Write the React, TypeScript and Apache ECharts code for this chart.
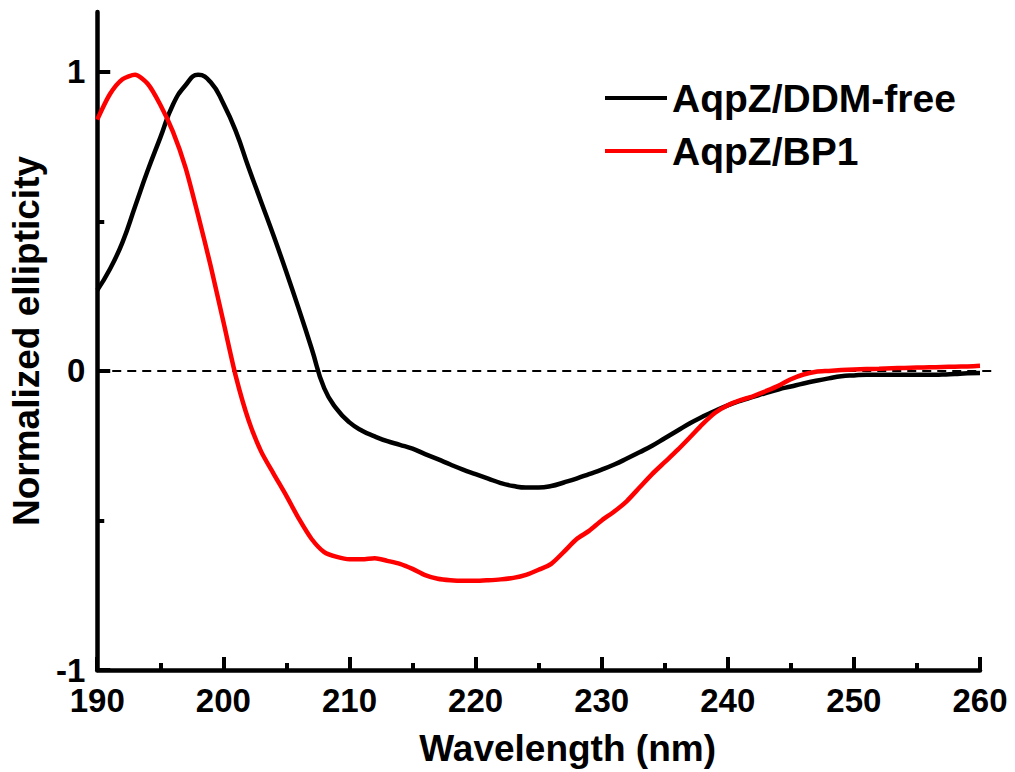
import React, { useEffect, useRef } from "react";
import * as echarts from "echarts";

const wavelength = [
  190, 191, 192, 193, 194, 195, 196, 197, 198, 199,
  200, 201, 202, 203, 204, 205, 206, 207, 208, 209,
  210, 211, 212, 213, 214, 215, 216, 217, 218, 219,
  220, 221, 222, 223, 224, 225, 226, 227, 228, 229,
  230, 231, 232, 233, 234, 235, 236, 237, 238, 239,
  240, 241, 242, 243, 244, 245, 246, 247, 248, 249,
  250, 251, 252, 253, 254, 255, 256, 257, 258, 259,
  260,
];

const ddmFree = [
  0.27, 0.34, 0.43, 0.55, 0.67, 0.78, 0.89, 0.955, 0.99, 0.965,
  0.894, 0.8, 0.68, 0.565, 0.45, 0.33, 0.205, 0.075, -0.058, -0.128,
  -0.172, -0.2, -0.219, -0.235, -0.247, -0.26, -0.278, -0.295, -0.313, -0.33,
  -0.345, -0.36, -0.375, -0.385, -0.39, -0.39, -0.385, -0.373, -0.36, -0.345,
  -0.33, -0.313, -0.293, -0.272, -0.25, -0.225, -0.2, -0.175, -0.153, -0.133,
  -0.115, -0.1, -0.087, -0.074, -0.062, -0.052, -0.042, -0.033, -0.025, -0.018,
  -0.015, -0.013, -0.013, -0.013, -0.013, -0.013, -0.013, -0.012, -0.01, -0.008,
  -0.007,
];

const bp1 = [
  0.84, 0.925, 0.975, 0.99, 0.96, 0.89, 0.8, 0.68, 0.52, 0.35,
  0.165, -0.02, -0.165, -0.27, -0.345, -0.418, -0.495, -0.562, -0.606, -0.622,
  -0.63, -0.63, -0.626, -0.635, -0.645, -0.662, -0.683, -0.695, -0.7, -0.702,
  -0.702, -0.7, -0.697, -0.692, -0.682, -0.665, -0.645, -0.605, -0.563, -0.535,
  -0.5, -0.47, -0.435, -0.39, -0.345, -0.305, -0.265, -0.222, -0.178, -0.14,
  -0.115, -0.098, -0.085, -0.068, -0.05, -0.028, -0.012, -0.003, 0.0, 0.003,
  0.005, 0.006, 0.007, 0.009, 0.01, 0.011, 0.012, 0.013, 0.014, 0.015,
  0.017,
];

const seriesNames = ["AqpZ/DDM-free", "AqpZ/BP1"];
const seriesColors = ["#000000", "#ff0000"];
const yMajorTicks = [-1, 0, 1];
const yMinorTicks = [-0.5, 0.5];
const xMin = 190;
const xMax = 260;
const yMin = -1;
const yMax = 1.2;

const FONT = "'Liberation Sans', Arial, sans-serif";

export default function App() {
  const ref = useRef<HTMLDivElement>(null);

  useEffect(() => {
    if (!ref.current) return;
    const chart = echarts.init(ref.current, undefined, { renderer: "svg" });

    const tickLine = { color: "#000", width: 4 };

    const option: any = {
      animation: false,
      backgroundColor: "#ffffff",
      grid: { left: 92, right: 35, top: 12, bottom: 99, containLabel: false },
      legend: {
        orient: "vertical",
        left: 600,
        top: 71,
        icon: "rect",
        itemWidth: 62,
        itemHeight: 4,
        itemGap: 9,
        data: seriesNames,
        textStyle: {
          fontSize: 39,
          fontWeight: "bold",
          fontFamily: FONT,
          color: "#000",
          lineHeight: 44,
        },
      },
      xAxis: {
        type: "value",
        min: xMin,
        max: xMax,
        interval: 10,
        axisLine: { show: true, onZero: false, lineStyle: { color: "#000", width: 4.5 } },
        axisTick: { show: true, inside: true, length: 13, lineStyle: tickLine },
        minorTick: { show: true, splitNumber: 2, length: 7, lineStyle: tickLine },
        splitLine: { show: false },
        minorSplitLine: { show: false },
        axisLabel: {
          fontSize: 33,
          fontWeight: "bold",
          fontFamily: FONT,
          color: "#000",
          margin: 14,
        },
        name: "Wavelength (nm)",
        nameLocation: "middle",
        nameGap: 60,
        nameTextStyle: {
          fontSize: 37,
          fontWeight: "bold",
          fontFamily: FONT,
          color: "#000",
          padding: [0, 0, 0, 58],
        },
      },
      yAxis: [
        {
          type: "value",
          min: yMin,
          max: yMax,
          position: "left",
          axisLine: { show: true, onZero: false, lineStyle: { color: "#000", width: 4.5 } },
          axisTick: { show: true, inside: true, length: 13, lineStyle: tickLine, customValues: yMajorTicks },
          splitLine: { show: false },
          axisLabel: {
            customValues: yMajorTicks,
            fontSize: 33,
            fontWeight: "bold",
            fontFamily: FONT,
            color: "#000",
            margin: 12,
          },
          name: "Normalized ellipticity",
          nameLocation: "middle",
          nameGap: 45,
          nameTextStyle: {
            fontSize: 37,
            fontWeight: "bold",
            fontFamily: FONT,
            color: "#000",
          },
        },
        {
          type: "value",
          min: yMin,
          max: yMax,
          position: "left",
          offset: 0,
          axisLine: { show: false, onZero: false },
          axisTick: { show: true, inside: true, length: 7, lineStyle: tickLine, customValues: yMinorTicks },
          axisLabel: { show: false, customValues: yMinorTicks },
          splitLine: { show: false },
        },
      ],
      series: [
        {
          name: seriesNames[0],
          type: "line",
          data: wavelength.map((w, i) => [w, ddmFree[i]]),
          symbol: "none",
          showSymbol: false,
          smooth: 0.5,
          clip: false,
          lineStyle: { color: seriesColors[0], width: 4.5 },
          itemStyle: { color: seriesColors[0] },
          z: 3,
        },
        {
          name: seriesNames[1],
          type: "line",
          data: wavelength.map((w, i) => [w, bp1[i]]),
          symbol: "none",
          showSymbol: false,
          smooth: 0.25,
          clip: false,
          lineStyle: { color: seriesColors[1], width: 4.5 },
          itemStyle: { color: seriesColors[1] },
          z: 4,
        },
      ],
    };

    chart.setOption(option);

    const p0 = chart.convertToPixel({ xAxisIndex: 0, yAxisIndex: 0 }, [xMin, 0]) as number[];
    const p1 = chart.convertToPixel({ xAxisIndex: 0, yAxisIndex: 0 }, [xMax, 0]) as number[];
    chart.setOption({
      graphic: [
        {
          type: "line",
          z: 1,
          shape: { x1: p0[0], y1: p0[1], x2: p1[0] + 12, y2: p1[1] },
          style: { stroke: "#000", lineWidth: 2, lineDash: [9, 6] },
        },
      ],
    });

    return () => {
      chart.dispose();
    };
  }, []);

  return (
    <div
      ref={ref}
      style={{ position: "fixed", left: 0, top: 0, width: 1015, height: 772, background: "#fff" }}
    />
  );
}
